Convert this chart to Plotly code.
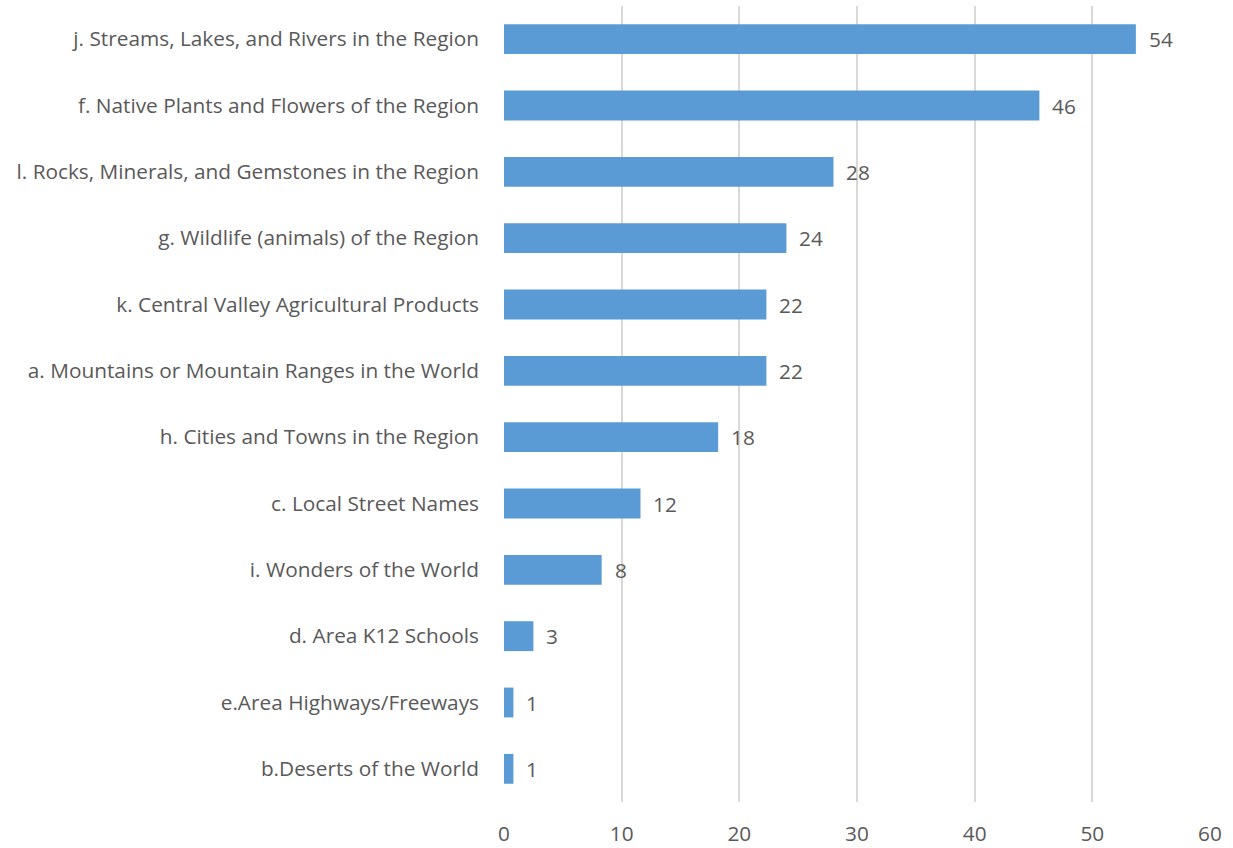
import plotly.graph_objects as go

categories = [
    "j. Streams, Lakes, and Rivers in the Region",
    "f. Native Plants and Flowers of the Region",
    "l. Rocks, Minerals, and Gemstones in the Region",
    "g. Wildlife (animals) of the Region",
    "k. Central Valley Agricultural Products",
    "a. Mountains or Mountain Ranges in the World",
    "h. Cities and Towns in the Region",
    "c. Local Street Names",
    "i. Wonders of the World",
    "d. Area K12 Schools",
    "e.Area Highways/Freeways",
    "b.Deserts of the World",
]
values = [53.7, 45.5, 28.0, 24.0, 22.3, 22.3, 18.2, 11.6, 8.3, 2.5, 0.8, 0.8]
value_labels = ["54", "46", "28", "24", "22", "22", "18", "12", "8", "3", "1", "1"]
x_ticks = [0, 10, 20, 30, 40, 50, 60]

FONT = "Open Sans"
FSIZE = 20.8
TEXT_COLOR = "#595959"

fig = go.Figure()
fig.add_trace(go.Bar(
    x=values,
    y=categories,
    orientation="h",
    marker=dict(color="#5b9bd5", line=dict(width=0)),
    width=0.45,
    hoverinfo="x+y",
))

for v, c, lab in zip(values, categories, value_labels):
    fig.add_annotation(
        x=v, y=c, text=lab, showarrow=False,
        xanchor="left", yanchor="middle", xshift=11,
        font=dict(family=FONT, size=FSIZE, color=TEXT_COLOR),
    )

fig.update_layout(
    width=1233, height=848,
    margin=dict(l=504, r=23, t=6, b=46, autoexpand=False),
    paper_bgcolor="white",
    plot_bgcolor="white",
    showlegend=False,
    font=dict(family=FONT, size=FSIZE, color=TEXT_COLOR),
)
fig.update_xaxes(
    range=[0, 60],
    tickvals=x_ticks,
    showgrid=True, gridcolor="#d9d9d9", gridwidth=1.5,
    zeroline=False, showline=False,
    ticks="", ticklabelstandoff=17,
    tickfont=dict(family=FONT, size=FSIZE, color=TEXT_COLOR),
    automargin=False,
)
fig.update_yaxes(
    categoryorder="array",
    categoryarray=categories[::-1],
    showgrid=False, zeroline=False, showline=False,
    ticks="", ticklabelstandoff=24,
    tickfont=dict(family=FONT, size=FSIZE, color=TEXT_COLOR),
    automargin=False,
)

fig.write_html("out.html", config={"displayModeBar": False})

# remove the browser's default page margin so the figure sits at (0, 0)
with open("out.html", "r", encoding="utf-8") as f:
    html = f.read()
html = html.replace("<head>", "<head><style>html,body{margin:0;padding:0;overflow:hidden;}</style>", 1)
with open("out.html", "w", encoding="utf-8") as f:
    f.write(html)
